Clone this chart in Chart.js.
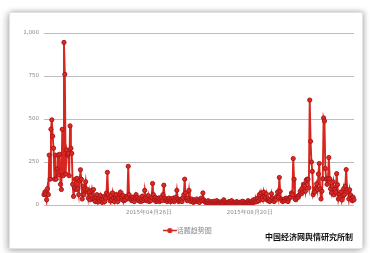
<!DOCTYPE html>
<html>
<head>
<meta charset="utf-8">
<script src="https://cdn.jsdelivr.net/npm/chart.js@4/dist/chart.umd.min.js"></script>
<style>
  html, body { margin: 0; padding: 0; background: #fff; }
  #wrap { position: relative; width: 370px; height: 253px; overflow: hidden; }
  #paper {
    position: absolute; left: 9px; top: 12px; width: 352px; height: 235px;
    background: #fff; border: 1px solid #e2e2e2;
    box-shadow: -2px 2px 7px rgba(0,0,0,0.28), 2px -1px 5px rgba(0,0,0,0.18);
  }
  #chart { position: absolute; left: 0; top: 0; }
  #credit {
    position: absolute; left: 265px; top: 231px;
    font: bold 8px "Noto Sans CJK SC", sans-serif; color: #111; white-space: nowrap;
  }
</style>
</head>
<body>
<div id="wrap">
  <div id="paper"></div>
  <canvas id="chart" width="370" height="253"></canvas>
  <div id="credit">中国经济网舆情研究所制</div>
</div>
<script>
// daily series, starting 2014-12-26
const startDate = '2014-12-26';
const seriesName = '话题趋势图';
const tickLabels = ['2015年04月26日', '2015年08月20日'];
const yTicks = [0, 250, 500, 750, 1000];

const heat = [
  // Dec 26 - Jan 27
  60, 75, 65, 30, 95, 60, 290, 150, 440, 495, 400, 330, 150, 290, 150, 210, 290, 175, 295, 120,
  90, 440, 170, 945, 760, 180, 320, 290, 300, 170, 460, 330, 300,
  120, 50, 100, 150, 90, 155, 95, 60, 140, 205,
  150, 35, 110, 60, 95, 135, 80, 90, 40, 75,
  30, 55, 85, 35, 90, 30, 20, 45, 60, 18,
  40, 25, 55, 35, 15, 30, 50, 20, 40, 70,
  190, 60, 40, 25, 55, 30, 70, 40, 20, 45,
  60, 35, 20, 40, 65, 75, 45, 30, 55, 25,
  40, 30, 50, 40, 225, 60, 35,
  // Apr 4 ->
  35, 25, 45, 30, 20, 40, 60, 45, 30, 25,
  40, 20, 30, 50, 25, 35, 85, 40, 25, 30,
  55, 20, 35, 25, 45, 125, 60, 30, 45, 20,
  35, 25, 40, 20, 30, 45, 25, 60, 115, 40,
  25, 35, 20, 30, 40, 25, 20, 35, 25, 40,
  20, 30, 45, 85, 35, 20, 30, 25, 35, 20,
  40, 60, 150, 70, 35, 25, 40, 85, 30, 20,
  35, 25, 15, 30, 20, 25, 35, 20, 25, 15,
  30, 40, 25, 70, 30, 20, 15,
  // quiet summer
  20, 15, 25, 10, 18, 12, 20, 8, 15, 22,
  10, 14, 25, 12, 8, 18, 10, 15, 20, 12,
  30, 18, 10, 14, 8, 12, 20, 15, 10, 25,
  12, 8, 16, 10, 14, 20, 12, 8, 15, 10,
  18, 12, 22, 10, 14, 8, 12, 18, 25, 15,
  10, 20, 12, 18, 30, 15, 22, 35, 20,
  40, 25, 60, 35, 70, 45, 30, 75, 50, 40, 65, 30,
  25, 35, 20, 30, 65, 40, 25, 20, 35, 30, 50, 75, 45,
  160, 80, 35,
  25, 20, 30, 35, 25, 40, 30, 20, 35, 45,
  45, 70, 60, 270, 150,
  35, 30, 40, 50, 45, 60, 80, 65, 95, 75, 120, 110, 80, 145, 150,
  // autumn flare-up
  150, 100, 610, 370, 250, 195, 60, 75, 76, 100,
  123, 90, 180, 241, 94, 35, 80, 153, 506, 488,
  212, 150, 120, 153, 276, 153, 94, 70, 110, 135,
  59, 90, 75, 182, 118, 35, 60, 45, 76, 29,
  55, 94, 60, 110, 206, 90, 76, 35, 88, 59,
  40, 25, 45, 30
];

const pad = n => String(n).padStart(2, '0');
const labels = [];
const d = new Date(startDate + 'T00:00:00');
for (let i = 0; i < heat.length; i++) {
  labels.push(`${d.getFullYear()}年${pad(d.getMonth() + 1)}月${pad(d.getDate())}日`);
  d.setDate(d.getDate() + 1);
}

// little "-o-" marker for the legend
const marker = document.createElement('canvas');
marker.width = 14; marker.height = 7;
const mctx = marker.getContext('2d');
mctx.strokeStyle = '#d8261e';
mctx.lineWidth = 1.5;
mctx.beginPath(); mctx.moveTo(0, 3.5); mctx.lineTo(14, 3.5); mctx.stroke();
mctx.fillStyle = '#d8261e';
mctx.beginPath(); mctx.arc(7, 3.5, 2.6, 0, Math.PI * 2); mctx.fill();

const tickFont = { family: 'DejaVu Sans, sans-serif', size: 5.5 };

new Chart(document.getElementById('chart'), {
  type: 'line',
  data: {
    labels,
    datasets: [{
      label: seriesName,
      data: heat,
      borderColor: '#d8261e',
      borderWidth: 1.9,
      pointRadius: 2.1,
      pointBorderWidth: 1,
      pointBorderColor: '#a9161a',
      pointBackgroundColor: '#dc2a22',
      tension: 0,
      fill: false
    }]
  },
  options: {
    responsive: false,
    animation: false,
    // left padding pushes the centred legend over to the right a bit
    layout: { padding: { left: 24, right: 16, top: 33, bottom: 9 } },
    plugins: {
      tooltip: { enabled: false },
      legend: {
        position: 'bottom',
        labels: {
          usePointStyle: true,
          pointStyle: marker,
          color: '#8a8a8a',
          font: { family: 'Noto Sans CJK SC, sans-serif', size: 7 },
          padding: 8
        }
      }
    },
    scales: {
      x: {
        grid: { display: false, drawTicks: false },
        border: { display: false },
        ticks: {
          autoSkip: false,
          maxRotation: 0,
          padding: 4,
          color: '#888',
          font: tickFont,
          callback: function(value) {
            const lab = this.getLabelForValue(value);
            return tickLabels.includes(lab) ? lab : '';
          }
        },
        afterFit: scale => { scale.height = 14; }
      },
      y: {
        min: 0,
        max: 1000,
        afterBuildTicks: scale => { scale.ticks = yTicks.map(v => ({ value: v })); },
        grid: { color: '#bdbdbd', lineWidth: 1, drawTicks: false },
        border: { display: false },
        ticks: {
          padding: 5,
          color: '#888',
          font: tickFont,
          callback: v => v.toLocaleString('en-US')
        },
        afterFit: scale => { scale.width = 20; }
      }
    }
  }
});
</script>
</body>
</html>
